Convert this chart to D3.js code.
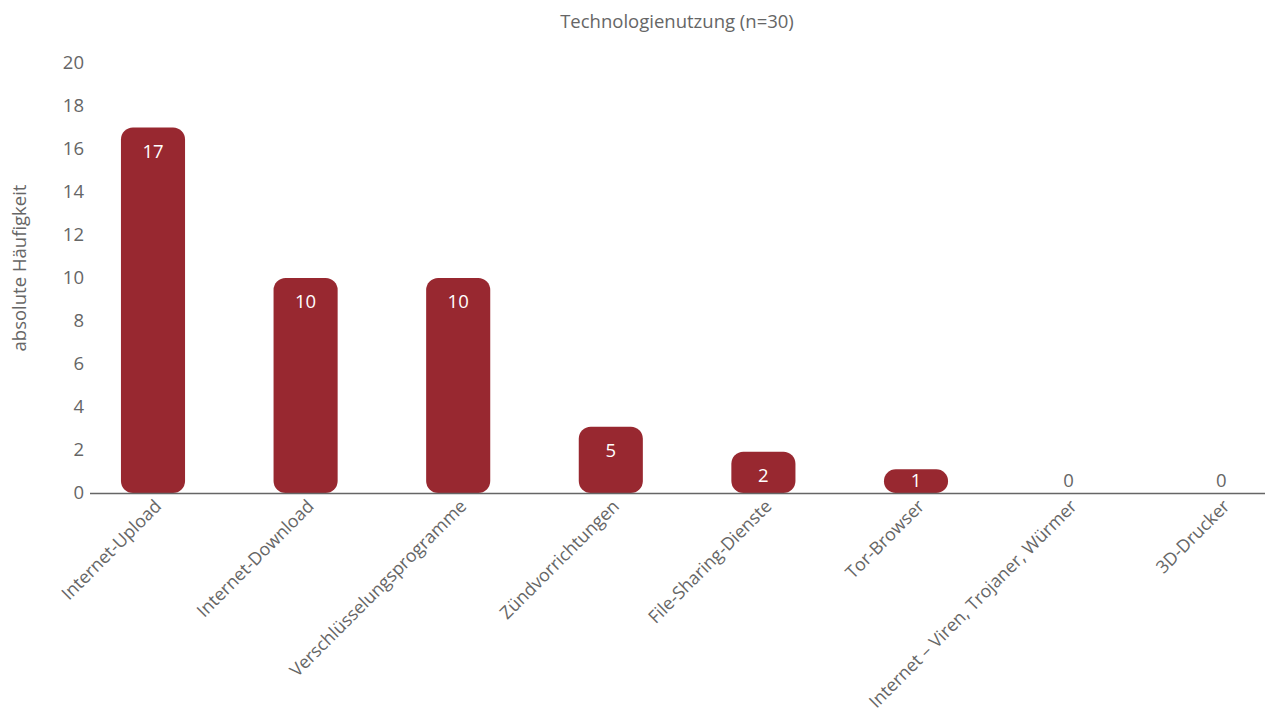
<!DOCTYPE html>
<html lang="de">
<head>
<meta charset="UTF-8">
<title>Technologienutzung</title>
<script src="https://cdn.jsdelivr.net/npm/d3@7/dist/d3.min.js"></script>
<style>
  body { margin: 0; background: #fff; }
  svg { display: block; font-family: "Open Sans", sans-serif; }
</style>
</head>
<body>
<div id="chart"></div>
<script>
    const categories = ["Internet-Upload", "Internet-Download", "Verschlüsselungsprogramme",
        "Zündvorrichtungen", "File-Sharing-Dienste", "Tor-Browser",
        "Internet – Viren, Trojaner, Würmer", "3D-Drucker"]
    // label values as printed
    const counts = [17, 10, 10, 5, 2, 1, 0, 0]
    // bar heights as drawn in the picture
    const barHeights = [17, 10, 10, 3.08, 1.92, 1.1, 0, 0]
    const yTicks = [0, 2, 4, 6, 8, 10, 12, 14, 16, 18, 20]

    const width = 1265, height = 715
    const fs = 18.5
    const svg = d3.select("#chart").append("svg")
        .attr("width", width).attr("height", height)

    const x = d3.scaleBand().domain(categories).range([76.7, 1297.5]).paddingInner(0.58).paddingOuter(0.29)
    const y = d3.scaleLinear().domain([0, 20]).range([493, 63])

    const grey = "#666"

    // y tick labels
    svg.append("g").selectAll("text").data(yTicks).join("text")
        .attr("x", 84).attr("y", d => y(d)).attr("dy", "0.35em")
        .attr("text-anchor", "end").attr("font-size", fs).attr("fill", grey)
        .text(d => d)

    // bars
    const bw = x.bandwidth()
    svg.append("g").selectAll("rect").data(categories).join("rect")
        .attr("x", d => x(d))
        .attr("y", (d, i) => y(barHeights[i]))
        .attr("width", bw)
        .attr("height", (d, i) => y(0) - y(barHeights[i]))
        .attr("rx", (d, i) => Math.min(12, (y(0) - y(barHeights[i])) / 2))
        .attr("fill", "#982830")
        .style("display", (d, i) => barHeights[i] > 0 ? null : "none")

    // baseline
    svg.append("line").attr("x1", 90).attr("x2", width).attr("y1", 493.5).attr("y2", 493.5)
        .attr("stroke", grey).attr("stroke-width", 1.5)

    // value labels
    svg.append("g").selectAll("text").data(categories).join("text")
        .attr("x", d => x(d) + bw / 2)
        .attr("y", (d, i) => Math.min(y(barHeights[i]) + 24, y(0) - 12))
        .attr("dy", "0.35em").attr("text-anchor", "middle").attr("font-size", fs)
        .attr("fill", (d, i) => barHeights[i] > 0 ? "#fff" : grey)
        .text((d, i) => counts[i])

    // x labels
    svg.append("g").selectAll("text").data(categories).join("text")
        .attr("transform", d => `translate(${x(d) + bw / 2 + 5},${503}) rotate(-45)`)
        .attr("text-anchor", "end").attr("dy", "0.35em").attr("font-size", 17.8).attr("fill", grey)
        .text(d => d)

    // title
    svg.append("text").attr("x", 677).attr("y", 22).attr("dy", "0.35em")
        .attr("text-anchor", "middle").attr("font-size", fs).attr("fill", grey)
        .text("Technologienutzung (n=30)")

    // y axis title
    svg.append("text").attr("transform", "translate(20,268) rotate(-90)").attr("dy", "0.35em")
        .attr("text-anchor", "middle").attr("font-size", fs).attr("fill", grey)
        .text("absolute Häufigkeit")
</script>
</body>
</html>
